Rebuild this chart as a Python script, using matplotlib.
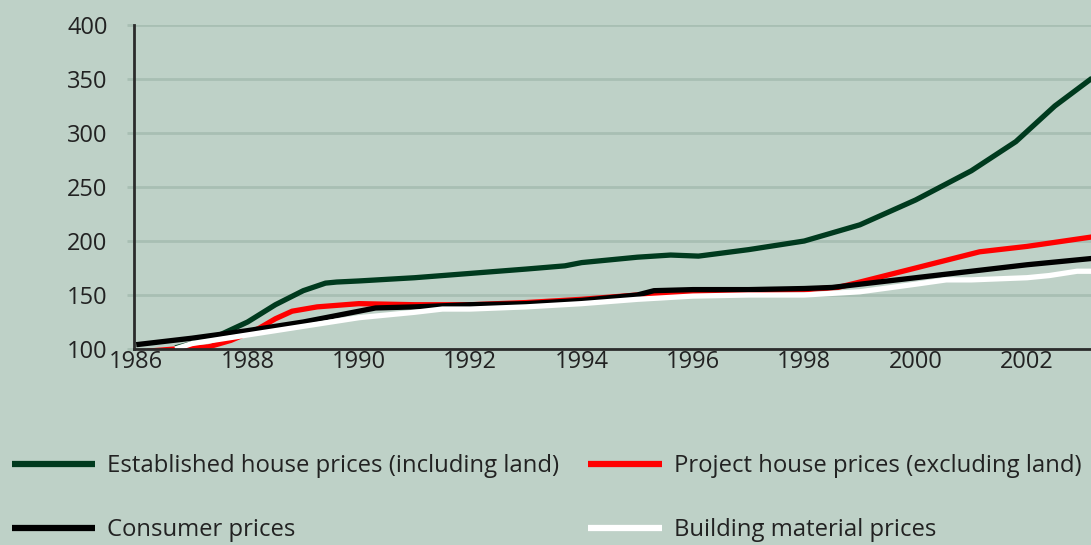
import matplotlib
matplotlib.use("Agg")
import matplotlib.pyplot as plt

# index values (base ~100)
est_years = [1986.7, 1987.0, 1987.5, 1988.0, 1988.5, 1989.0, 1989.4, 1989.6, 1990.0, 1991.0, 1992.0,
             1993.0, 1993.7, 1994.0, 1995.0, 1995.6, 1996.1, 1997.0, 1998.0, 1999.0, 2000.0,
             2001.0, 2001.8, 2002.5, 2003.2]
est_vals = [101, 105, 113, 125, 141, 154, 161, 162, 163, 166, 170,
            174, 177, 180, 185, 187, 186, 192, 200, 215, 238,
            265, 292, 325, 352]

proj_years = [1986.2, 1986.7, 1987.3, 1987.7, 1988.2, 1988.5, 1988.8, 1989.25, 1990.0, 1991.0,
              1992.0, 1993.0, 1994.0, 1995.0, 1996.0, 1997.0, 1998.0, 1998.6, 1999.0, 2000.0,
              2001.15, 2002.0, 2003.2]
proj_vals = [98, 100, 102, 108, 119, 128, 135, 139, 142, 141,
             141, 143, 146, 150, 153, 154, 155, 157, 162, 175,
             190, 195, 204]

cpi_years = [1986.0, 1987.0, 1988.0, 1989.0, 1989.6, 1989.9, 1990.3, 1991.0, 1992.0, 1993.0,
             1994.0, 1995.0, 1995.3, 1996.0, 1997.0, 1998.0, 1998.5, 1999.0, 2000.0, 2001.0,
             2002.0, 2003.2]
cpi_vals = [104, 110, 117, 125, 131, 134, 138, 139, 141, 142,
            145, 150, 154, 155, 155, 156, 157, 160, 166, 172,
            178, 184]

mat_years = [1986.7, 1987.0, 1988.0, 1989.0, 1990.0, 1991.0, 1991.5, 1992.0, 1993.0, 1994.0,
             1995.0, 1996.0, 1997.0, 1998.0, 1999.0, 2000.0, 2000.55, 2001.0, 2002.0, 2002.4,
             2002.9, 2003.2]
mat_vals = [100, 105, 113, 121, 129, 134, 137, 137, 139, 142,
            146, 149, 150, 150, 153, 160, 164, 164, 166, 168,
            172, 172]

series = [
    ("Established house prices (including land)", est_years, est_vals, "#003a1e"),
    ("Project house prices (excluding land)", proj_years, proj_vals, "#ff0000"),
    ("Consumer prices", cpi_years, cpi_vals, "#000000"),
    ("Building material prices", mat_years, mat_vals, "#ffffff"),
]

x_ticks = [1986, 1988, 1990, 1992, 1994, 1996, 1998, 2000, 2002]
y_ticks = [100, 150, 200, 250, 300, 350, 400]

bg = "#bed1c7"
grid_c = "#a8bfb3"

plt.rcParams['font.family'] = ['Open Sans', 'DejaVu Sans']

fig = plt.figure(figsize=(10.91, 5.45), dpi=100, facecolor=bg)
ax = fig.add_axes([134 / 1091, 1 - 349 / 545, 1 - 134 / 1091, (349 - 25) / 545])
ax.set_facecolor(bg)

lines = {}
for name, xs, ys, col in series:
    ln, = ax.plot(xs, ys, color=col, lw=3.8, solid_capstyle='butt', solid_joinstyle='round',
                  label=name, zorder=3)
    lines[name] = ln

ax.set_xlim(1985.96, 2003.15)
ax.set_ylim(100, 400)
ax.set_yticks(y_ticks)
ax.set_xticks(x_ticks)
ax.grid(axis='y', color=grid_c, lw=2)
ax.set_axisbelow(True)
for s in ['top', 'right']:
    ax.spines[s].set_visible(False)
for s in ['left', 'bottom']:
    ax.spines[s].set_color('#2b2b2b')
    ax.spines[s].set_linewidth(2)
    ax.spines[s].set_zorder(4)
ax.tick_params(axis='y', length=5, width=2, color=grid_c, pad=14, labelsize=17, labelcolor='#222222')
ax.tick_params(axis='x', length=0, pad=1, labelsize=17, labelcolor='#222222')

names = [s[0] for s in series]
leg1 = fig.legend([lines[names[0]], lines[names[2]]], [names[0], names[2]],
                  loc='upper left', bbox_to_anchor=(-10 / 1091, 1 - 433 / 545),
                  frameon=False, fontsize=17.2, handlelength=3.5, handletextpad=0.5,
                  labelspacing=1.65, labelcolor='#222222')
leg2 = fig.legend([lines[names[1]], lines[names[3]]], [names[1], names[3]],
                  loc='upper left', bbox_to_anchor=(566 / 1091, 1 - 433 / 545),
                  frameon=False, fontsize=17.2, handlelength=3.1, handletextpad=0.5,
                  labelspacing=1.65, labelcolor='#222222')
for lg in (leg1, leg2):
    for h in lg.legend_handles:
        h.set_linewidth(4.5)

fig.savefig("out.png", dpi=100, facecolor=bg)
